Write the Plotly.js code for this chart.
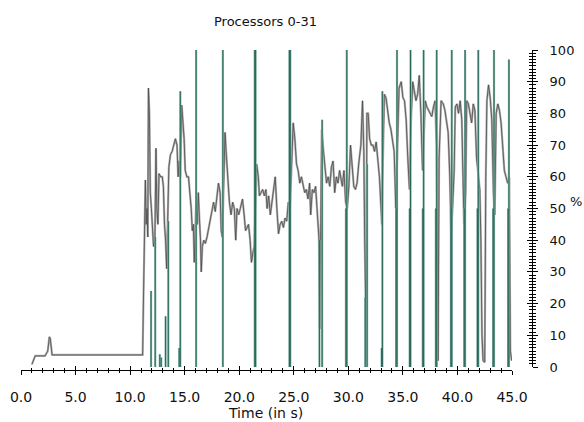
<!DOCTYPE html>
<html>
<head>
<meta charset="utf-8">
<script src="https://cdn.plot.ly/plotly-3.0.1.min.js"></script>
<style>html,body{margin:0;padding:0;background:#fff;}#chart{width:584px;height:422px;}</style>
</head>
<body>
<div id="chart"></div>
<script>
// CPU utilisation (%) over time (s)
const cpuTime = [1.0,1.3,2.2,2.45,2.6,2.68,2.85,11.15,11.2,11.3,11.4,11.47,11.55,11.62,11.68,11.77,11.85,11.95,12.05,12.15,12.27,12.37,12.45,12.55,12.65,12.8,12.95,13.05,13.15,13.25,13.35,13.45,13.55,13.7,13.85,14.0,14.15,14.3,14.4,14.5,14.6,14.73,14.85,14.95,15.05,15.2,15.35,15.5,15.6,15.7,15.8,15.88,15.97,16.05,16.15,16.25,16.35,16.45,16.52,16.62,16.75,16.9,17.05,17.2,17.35,17.5,17.65,17.8,17.95,18.1,18.25,18.35,18.45,18.55,18.7,18.8,18.95,19.1,19.25,19.4,19.55,19.68,19.8,19.95,20.1,20.3,20.45,20.58,20.72,20.85,21.0,21.12,21.25,21.38,21.5,21.6,21.75,21.85,22.0,22.15,22.3,22.45,22.55,22.7,22.85,23.0,23.15,23.3,23.45,23.6,23.75,23.9,24.05,24.2,24.35,24.5,24.65,24.8,24.95,25.1,25.25,25.4,25.55,25.7,25.85,26.0,26.15,26.3,26.45,26.55,26.7,26.85,27.0,27.15,27.3,27.38,27.46,27.56,27.7,27.85,28.0,28.15,28.3,28.45,28.6,28.75,28.9,29.05,29.2,29.3,29.45,29.6,29.75,29.9,30.05,30.2,30.35,30.5,30.65,30.8,30.95,31.15,31.3,31.42,31.5,31.56,31.63,31.7,31.82,31.95,32.1,32.25,32.4,32.55,32.7,32.85,33.0,33.07,33.17,33.3,33.45,33.6,33.75,33.9,34.05,34.2,34.35,34.5,34.65,34.85,35.0,35.15,35.3,35.45,35.6,35.75,35.9,36.05,36.2,36.35,36.5,36.65,36.8,36.95,37.05,37.2,37.35,37.5,37.65,37.8,37.95,38.08,38.15,38.22,38.32,38.5,38.7,38.85,39.0,39.15,39.3,39.42,39.55,39.7,39.8,39.95,40.1,40.25,40.4,40.5,40.6,40.75,40.85,41.0,41.15,41.3,41.45,41.6,41.75,41.9,42.05,42.15,42.25,42.35,42.5,42.6,42.7,42.85,43.0,43.15,43.3,43.42,43.55,43.7,43.85,44.0,44.15,44.3,44.45,44.6,44.75,44.85,44.97];
const cpuPct = [0.8,3.5,3.5,5,9.5,9,3.8,3.8,16,43,59,45,50,41,88,80,55,50,45,38,40,69,50,45,61,60,60,57,45,40,31,45,63,67,68,70,72,70,60,65,60,82.6,78,72,62,60,60,55,50,43,45,33,45,52,45,55,47,40,30,38,40,39,41,44,46,50,52,49,54,58,55,43,41,52,74,68,60,52,48,52,50,40,50,48,50,53,48,43,44,45,40,33,36,38,52,64,60,54,55,56,54,56,50,54,48,52,57,60,50,42,45,46,44,47,46,52,50,66,77,72,64,62,58,60,57,55,56,53,58,48,56,55,57,50,41,12,40,75,69,62,58,60,57,63,65,55,60,58,62,60,57,62,52,50,57,70,62,57,56,58,64,70,84,68,40,20,10,80,80,72,70,70,68,71,66,60,50,45,65,86,85,80,77,75,72,68,50,70,88,90,85,84,78,66,56,78,90,87,84,86,92,80,62,75,84,82,81,80,79,82,84,70,48,2,66,84,83,81,78,74,60,42,50,62,82,83,80,84,78,60,45,55,84,83,80,77,83,81,66,60,56,40,10,2,1.5,60,84,89,85,78,55,48,80,83,81,77,70,62,60,58,60,5,2];

// Spike events: time (s) and peak (%)
const spikeTime = [11.92,12.3,12.72,12.85,13.25,13.5,14.5,14.6,16.05,18.5,21.42,21.5,24.6,24.68,27.35,27.6,29.78,29.86,31.55,31.72,33.05,33.12,34.38,34.46,35.62,35.7,36.82,36.9,38.02,38.1,39.4,39.48,40.62,40.7,41.83,41.91,43.27,43.35,44.64,44.72];
const spikeTop = [24,41,4,3,16,46,6,87,100,100,100,100,100,100,40,78,50,100,22,64,6,87,50,100,50,100,50,100,50,100,50,100,50,100,50,100,50,100,50,97];

const titleText = 'Processors 0-31';
const xTitle = 'Time (in s)';
const yTitle = '%';

const sx = [], sy = [];
spikeTime.forEach((t, i) => { sx.push(t, t, null); sy.push(0, spikeTop[i], null); });

const FONT = 'DejaVu Sans, Verdana, sans-serif';

const traces = [
  {x: cpuTime, y: cpuPct, mode: 'lines', line: {color: '#b2b2b2', width: 2.2}, hoverinfo: 'skip'},
  {x: cpuTime, y: cpuPct, mode: 'lines', line: {color: '#4a4a4a', width: 0.8}, hoverinfo: 'skip'},
  {x: sx, y: sy, mode: 'lines', line: {color: '#86b5aa', width: 2.2}, hoverinfo: 'skip', connectgaps: false},
  {x: sx, y: sy, mode: 'lines', line: {color: '#1f5c4d', width: 0.9}, hoverinfo: 'skip', connectgaps: false},
  {x: [null], y: [null], xaxis: 'x2', yaxis: 'y2', mode: 'lines', hoverinfo: 'skip'}
];

const xdom = [0, 491/511];
const ydom = [3/320, 1];

const layout = {
  width: 584, height: 422,
  margin: {l: 21, r: 52, t: 50, b: 52, pad: 0},
  paper_bgcolor: '#fff', plot_bgcolor: '#fff',
  showlegend: false,
  font: {family: FONT, color: '#111'},
  xaxis: {
    domain: xdom, range: [0, 45], anchor: 'free', position: 0,
    tick0: 0, dtick: 5, tickformat: '.1f',
    ticks: 'outside', ticklen: 4, tickwidth: 1, tickcolor: '#000',
    showline: true, linecolor: '#000', linewidth: 1,
    showgrid: false, zeroline: false,
    minor: {dtick: 1, tick0: 0, ticks: 'outside', ticklen: 2, tickcolor: '#000', showgrid: false},
    tickfont: {family: FONT, size: 14, color: '#111'},
    ticklabelstandoff: 10
  },
  xaxis2: {
    overlaying: 'x', domain: xdom, range: [0, 45], anchor: 'free', position: 0,
    tick0: 0, dtick: 5, ticks: 'inside', ticklen: 4, tickcolor: '#000',
    showticklabels: false, showline: false, showgrid: false, zeroline: false,
    minor: {dtick: 1, tick0: 0, ticks: 'inside', ticklen: 2, tickcolor: '#000', showgrid: false}
  },
  yaxis: {
    domain: ydom, range: [0, 100], side: 'right', anchor: 'free', position: 1,
    tick0: 0, dtick: 10,
    ticks: 'outside', ticklen: 5, tickwidth: 1, tickcolor: '#000',
    showline: true, linecolor: '#000', linewidth: 1,
    showgrid: false, zeroline: false,
    minor: {dtick: 1, tick0: 0, ticks: 'outside', ticklen: 3, tickcolor: '#000', showgrid: false},
    tickfont: {family: FONT, size: 13, color: '#111'},
    ticklabelstandoff: 9
  },
  yaxis2: {
    overlaying: 'y', domain: ydom, range: [0, 100], side: 'right', anchor: 'free', position: 1,
    tick0: 0, dtick: 10, ticks: 'inside', ticklen: 5, tickcolor: '#000',
    showticklabels: false, showline: false, showgrid: false, zeroline: false,
    minor: {dtick: 1, tick0: 0, ticks: 'inside', ticklen: 3, tickcolor: '#000', showgrid: false}
  },
  annotations: [
    {text: titleText, xref: 'paper', yref: 'paper', x: (265-21)/511, y: (370-21)/320,
     xanchor: 'center', yanchor: 'middle', showarrow: false, font: {family: FONT, size: 13, color: '#111'}},
    {text: xTitle, xref: 'paper', yref: 'paper', x: (265-21)/511, y: (370-413)/320,
     xanchor: 'center', yanchor: 'middle', showarrow: false, font: {family: FONT, size: 14, color: '#111'}},
    {text: yTitle, xref: 'paper', yref: 'paper', x: (576-21)/511, y: (370-201)/320,
     xanchor: 'center', yanchor: 'middle', showarrow: false, font: {family: FONT, size: 13, color: '#111'}}
  ]
};

Plotly.newPlot('chart', traces, layout, {displayModeBar: false, staticPlot: true});
</script>
</body>
</html>
